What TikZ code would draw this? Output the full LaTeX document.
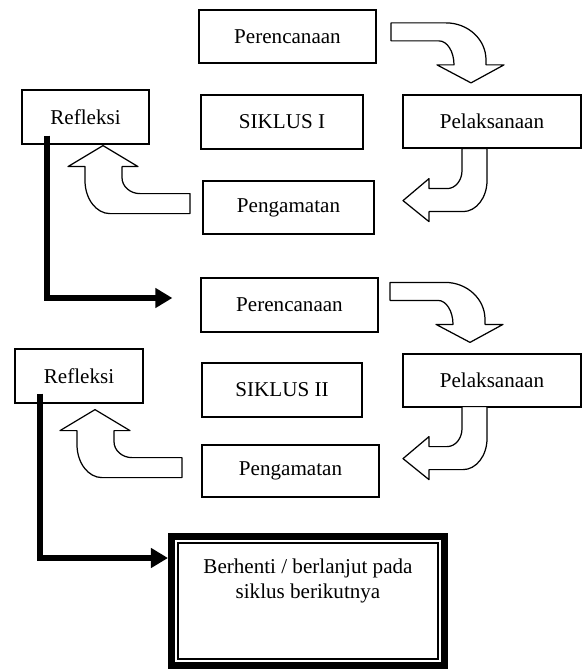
\documentclass[tikz,border=0pt]{standalone}
\usepackage{fontspec}
\setmainfont{Liberation Serif}
\usetikzlibrary{positioning, arrows.meta}

\tikzset{
  stage/.style={draw, line width=0.7pt, align=center, inner sep=0pt},
  thickarrow/.style={line width=3.4pt, -{Triangle[length=0.34cm, width=0.38cm]}},
  blockarrow/.style={draw, line width=0.7pt, fill=white, line join=round},
  % curved block arrows, origin at the tip
  bendright/.pic={
    \path[blockarrow] (0,0) -- (0.66,0.36) -- (0.30,0.36) -- (0.30,0.46)
      .. controls (0.30,0.868) and (-0.058,1.2) .. (-0.5,1.2) -- (-1.6,1.2) -- (-1.6,0.84) -- (-0.64,0.84)
      .. controls (-0.474,0.84) and (-0.34,0.624) .. (-0.34,0.36) -- (-0.68,0.36) -- cycle;
  },
  benddown/.pic={
    \path[blockarrow] (0,0) -- (0.52,0.44) -- (0.52,0.24) -- (0.88,0.24)
      .. controls (1.046,0.24) and (1.18,0.402) .. (1.18,0.6) -- (1.18,1.04) -- (1.68,1.04) -- (1.68,0.4)
      .. controls (1.68,0.058) and (1.464,-0.22) .. (1.2,-0.22) -- (0.52,-0.22) -- (0.52,-0.42) -- cycle;
  },
  bendup/.pic={
    \path[blockarrow] (0,0) -- (0.7,-0.42) -- (0.38,-0.42) -- (0.38,-0.64)
      .. controls (0.38,-0.816) and (0.542,-0.96) .. (0.74,-0.96) -- (1.74,-0.96) -- (1.74,-1.36) -- (0.14,-1.36)
      .. controls (-0.136,-1.36) and (-0.36,-1.064) .. (-0.36,-0.7) -- (-0.36,-0.42) -- (-0.7,-0.42) -- cycle;
  }
}

\begin{document}
\begin{tikzpicture}[minimum width=3.54cm, minimum height=1.06cm, font=\fontsize{12}{14.5}\selectfont]
      \useasboundingbox (0,0) rectangle (11.62,-13.4);

      % siklus I
      \node[stage]                                      (pr1) at (5.75, -0.73)  {Perencanaan};
      \node[stage, minimum width=3.24cm, minimum height=1.08cm] (sk1) at (5.64, -2.44)  {SIKLUS I};
      \node[stage, minimum width=3.56cm]                (pl1) at (9.84, -2.43)  {Pelaksanaan};
      \node[stage, minimum width=2.54cm, minimum height=1.08cm] (rf1) at (1.71, -2.34)  {Refleksi};
      \node[stage, minimum width=3.42cm]                (pg1) at (5.77, -4.15)  {Pengamatan};

      % siklus II
      \node[stage, minimum height=1.08cm]               (pr2) at (5.79, -6.10)  {Perencanaan};
      \node[stage, minimum width=3.20cm, minimum height=1.08cm] (sk2) at (5.64, -7.80)  {SIKLUS II};
      \node[stage, minimum width=3.56cm]                (pl2) at (9.84, -7.61)  {Pelaksanaan};
      \node[stage, minimum width=2.56cm, minimum height=1.08cm] (rf2) at (1.58, -7.52)  {Refleksi};
      \node[stage, minimum height=1.04cm]               (pg2) at (5.81, -9.42)  {Pengamatan};

      \node[stage, line width=4pt, minimum width=5.46cm, minimum height=2.58cm] (stop) at (6.16, -12.02)
        {\parbox[c][2.4cm][t]{5cm}{\centering\rule{0pt}{0.64cm}Berhenti / berlanjut pada\\ siklus berikutnya}};
      \draw[line width=0.7pt] ([shift={(0.2,-0.2)}]stop.north west) rectangle ([shift={(-0.2,0.2)}]stop.south east);

      \pic at ([xshift=-0.42cm, yshift=0.23cm]pl1.north) {bendright};
      \pic at ([xshift=-1.78cm, yshift=-1.04cm]pl1.south) {benddown};
      \pic at ([xshift=0.35cm, yshift=-0.02cm]rf1.south) {bendup};

      \pic at ([xshift=-0.44cm, yshift=0.22cm]pl2.north) {bendright};
      \pic at ([xshift=-1.78cm, yshift=-1.02cm]pl2.south) {benddown};
      \pic at ([xshift=0.32cm, yshift=-0.12cm]rf2.south) {bendup};

      \draw[thickarrow] ([xshift=-0.77cm, yshift=0.18cm]rf1.south) |- ([xshift=-0.56cm, yshift=0.14cm]pr2.west);
      \draw[thickarrow] ([xshift=-0.78cm, yshift=0.20cm]rf2.south) |- ([yshift=0.86cm]stop.west);
    \end{tikzpicture}
\end{document}
